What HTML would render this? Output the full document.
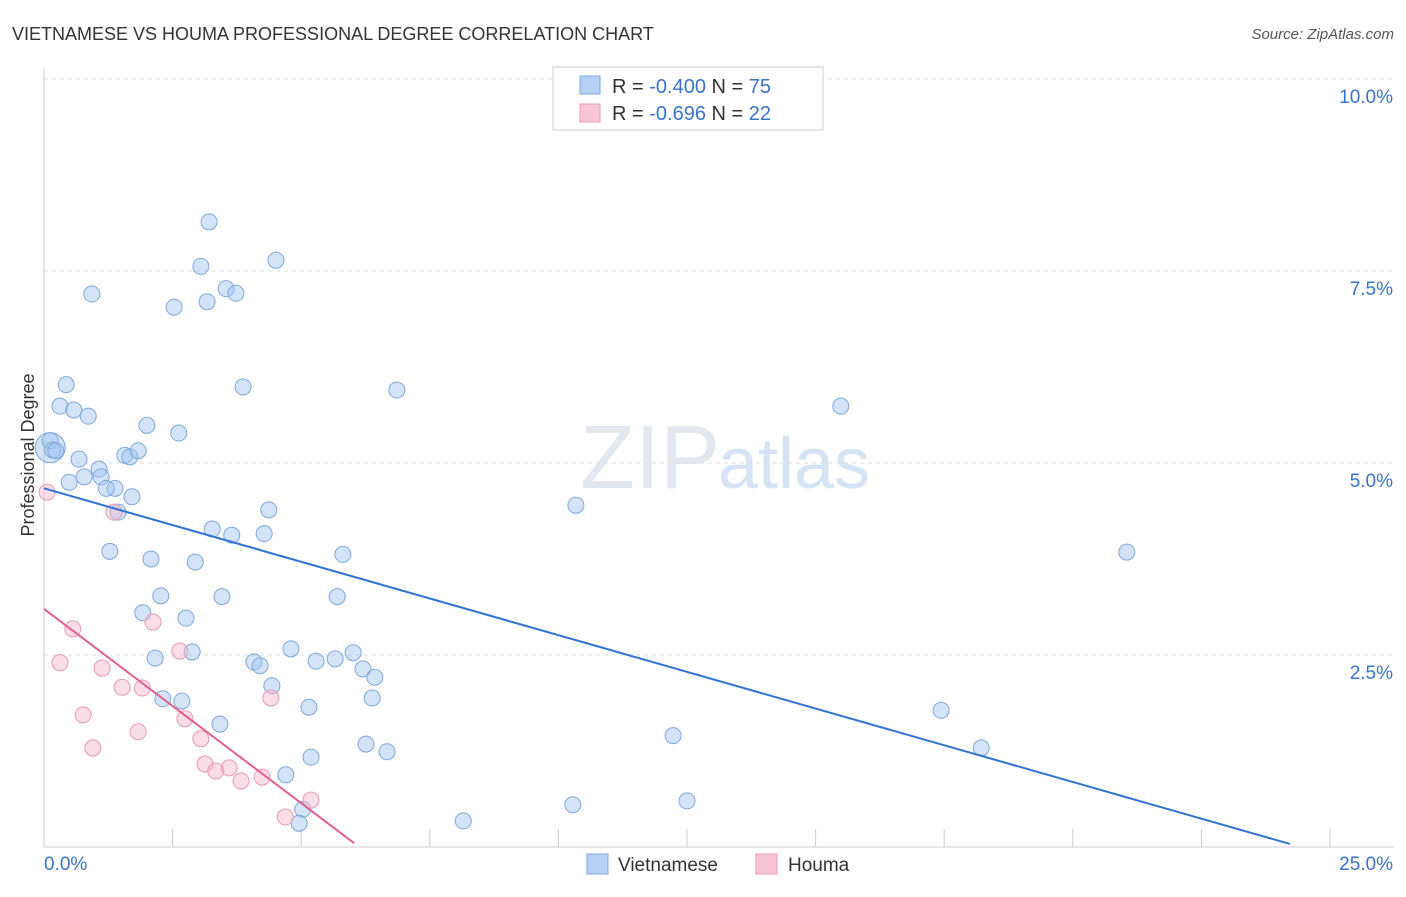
<!DOCTYPE html>
<html><head><meta charset="utf-8"><style>
body{margin:0;background:#fff;font-family:"Liberation Sans",sans-serif;}
svg text{font-family:"Liberation Sans",sans-serif;}
</style></head><body>
<svg id="chart" width="1406" height="892">
<text x="12" y="40" font-size="18" fill="#333">VIETNAMESE VS HOUMA PROFESSIONAL DEGREE CORRELATION CHART</text>
<text x="1394" y="39" font-size="15" fill="#555" font-style="italic" text-anchor="end">Source: ZipAtlas.com</text>
<text x="720" y="488" font-size="90" fill="#e3e7ee" text-anchor="end" font-family="Liberation Serif">ZIP</text>
<text x="718" y="488" font-size="72" fill="#d6e3f5">atlas</text>
<text transform="translate(34,455) rotate(-90)" font-size="18" fill="#333" text-anchor="middle">Professional Degree</text>
<g id="grid"></g><g id="marks"></g>
<g>
<rect x="553" y="67" width="270" height="63" fill="#fff" stroke="#ccc"/>
<rect x="580" y="76" width="20" height="18" fill="#b5d0f3" stroke="#7fa8dc"/>
<rect x="580" y="104" width="20" height="18" fill="#f8c6d6" stroke="#e89ab5"/>
<text x="612" y="93" font-size="20" fill="#333">R = <tspan fill="#3b73c8">-0.400</tspan>   N = <tspan fill="#3b73c8">75</tspan></text>
<text x="612" y="120" font-size="20" fill="#333">R =  <tspan fill="#3b73c8">-0.696</tspan>   N = <tspan fill="#3b73c8">22</tspan></text>
</g>
<g>
<rect x="587" y="854" width="21" height="20" fill="#b5d0f3" stroke="#7fa8dc"/>
<text x="618" y="871" font-size="19" fill="#333">Vietnamese</text>
<rect x="756" y="854" width="21" height="20" fill="#f8c6d6" stroke="#e89ab5"/>
<text x="788" y="871" font-size="19" fill="#333">Houma</text>
</g>
</svg>
<script>
const blueX=[3.21,4.51,3.05,0.93,3.54,3.73,3.17,2.53,0.43,3.87,6.86,0.31,0.58,0.86,2.00,2.62,0.12,0.17,0.23,0.68,1.57,1.67,1.83,1.07,0.78,1.11,0.49,1.38,1.21,1.71,4.37,1.44,10.34,15.49,3.27,3.65,4.28,1.28,2.08,2.94,5.81,21.05,2.27,3.46,5.70,1.92,2.76,4.80,2.88,2.16,4.08,4.20,5.29,5.66,6.01,6.20,6.43,4.43,2.31,2.68,6.38,5.15,17.44,3.42,12.23,6.26,6.67,5.19,18.22,4.70,12.50,10.28,5.03,8.15,4.96];
const blueY=[8.14,7.64,7.56,7.20,7.27,7.21,7.10,7.03,6.02,5.99,5.95,5.74,5.69,5.61,5.49,5.39,5.29,5.17,5.16,5.05,5.10,5.08,5.16,4.92,4.82,4.82,4.75,4.67,4.67,4.56,4.39,4.36,4.45,5.74,4.14,4.06,4.08,3.85,3.75,3.71,3.81,3.84,3.27,3.26,3.26,3.05,2.98,2.58,2.54,2.46,2.41,2.36,2.42,2.45,2.53,2.32,2.21,2.10,1.93,1.90,1.94,1.82,1.78,1.60,1.45,1.34,1.24,1.17,1.29,0.94,0.60,0.55,0.49,0.34,0.31];
const pinkX=[0.06,1.36,0.56,2.12,0.31,1.13,2.64,1.52,1.91,0.76,2.74,1.83,4.41,0.95,3.05,3.13,3.60,3.34,3.83,4.24,5.19,4.69];
const pinkY=[4.62,4.36,2.84,2.93,2.40,2.33,2.55,2.08,2.07,1.72,1.67,1.50,1.94,1.29,1.41,1.08,1.03,0.99,0.86,0.91,0.61,0.39];
const blueLineX=[0,24.22], blueLineY=[4.67,0.04];
const pinkLineX=[0,6.03], pinkLineY=[3.10,0.05];
const xTicks=[0,2.5,5,7.5,10,12.5,15,17.5,20,22.5,25];
const yTicks=[2.5,5,7.5,10];
const yTickLabels=["2.5%","5.0%","7.5%","10.0%"];
const NS="http://www.w3.org/2000/svg";
const sx=v=>44+v/25*1286, sy=v=>847-v/10*768;
function mk(tag,attrs,parent){const e=document.createElementNS(NS,tag);for(const k in attrs)e.setAttribute(k,attrs[k]);parent.appendChild(e);return e;}
const grid=document.getElementById('grid'),marks=document.getElementById('marks');
yTicks.forEach((t,i)=>{
 const l=mk('line',{x1:44,x2:1394,y1:sy(t),y2:sy(t),stroke:'#ddd','stroke-dasharray':'4,4'},grid);
 
 
 const tx=mk('text',{x:1393,y:sy(t)+24,'font-size':19,fill:'#3b73c8','text-anchor':'end'},grid);
 tx.textContent=yTickLabels[i];
 
 
});
const ax=mk('line',{x1:44,x2:44,y1:68,y2:847,stroke:'#ccc'},grid);


const bx=mk('line',{x1:44,x2:1394,y1:847,y2:847,stroke:'#ccc'},grid);


xTicks.forEach(t=>{
 const l=mk('line',{x1:sx(t),x2:sx(t),y1:829,y2:847,stroke:'#ccc'},grid);
 
 
});
const xl0=mk('text',{x:44,y:870,'font-size':19,fill:'#3b73c8'},grid);xl0.textContent=xTicks[0].toFixed(1)+'%';


const xl1=mk('text',{x:1393,y:870,'font-size':19,fill:'#3b73c8','text-anchor':'end'},grid);xl1.textContent=xTicks[xTicks.length-1].toFixed(1)+'%';


mk('circle',{cx:sx(0.12),cy:sy(5.2),r:15,fill:'rgba(160,195,240,0.45)',stroke:'#7fa8dc'},marks);
blueX.forEach((x,i)=>{
 const c=mk('circle',{cx:sx(x),cy:sy(blueY[i]),r:8,fill:'rgba(160,195,240,0.45)',stroke:'#7fa8dc','stroke-width':1},marks);
 
 
});
pinkX.forEach((x,i)=>{
 const c=mk('circle',{cx:sx(x),cy:sy(pinkY[i]),r:8,fill:'rgba(245,180,200,0.45)',stroke:'#e89ab5','stroke-width':1},marks);
 
 
});
const bl=mk('line',{x1:sx(blueLineX[0]),y1:sy(blueLineY[0]),x2:sx(blueLineX[1]),y2:sy(blueLineY[1]),stroke:'#2f73d6','stroke-width':2},marks);


const pl=mk('line',{x1:sx(pinkLineX[0]),y1:sy(pinkLineY[0]),x2:sx(pinkLineX[1]),y2:sy(pinkLineY[1]),stroke:'#e0608c','stroke-width':2},marks);


</script>
</body></html>
